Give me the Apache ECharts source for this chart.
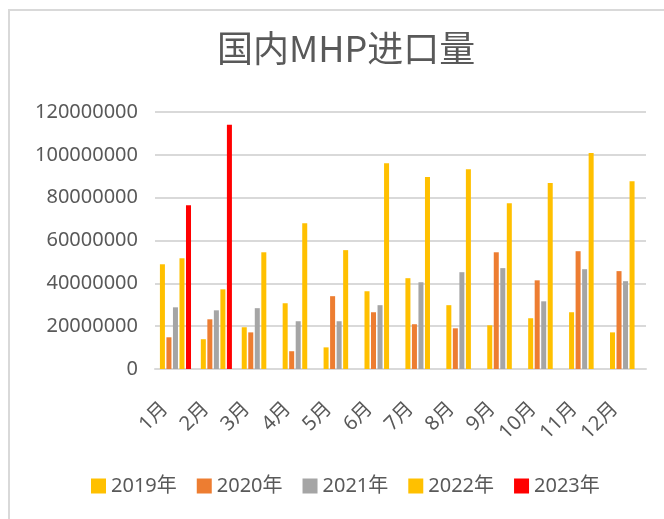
<!DOCTYPE html>
<html>
<head>
<meta charset="utf-8">
<script src="https://cdn.jsdelivr.net/npm/echarts@6/dist/echarts.min.js"></script>
<style>html,body{margin:0;padding:0;background:#fff;}#c{width:664px;height:519px;}</style>
</head>
<body>
<div id="c"></div>
<script>
const months = ['1月','2月','3月','4月','5月','6月','7月','8月','9月','10月','11月','12月'];
const seriesNames = ['2019年','2020年','2021年','2022年','2023年'];
const y2019 = [48900000,13900000,19500000,30700000,10100000,36300000,42400000,29800000,20400000,23700000,26500000,17100000];
const y2020 = [14800000,23200000,17100000,8300000,34000000,26500000,20900000,19000000,54500000,41400000,55000000,45700000];
const y2021 = [28800000,27400000,28400000,22300000,22300000,29800000,40500000,45200000,47100000,31600000,46600000,41000000];
const y2022 = [51700000,37200000,54500000,68100000,55500000,96100000,89600000,93300000,77400000,86800000,100800000,87700000];
const y2023 = [76500000,114000000,null,null,null,null,null,null,null,null,null,null];
const yTicks = {min:0, max:120000000, interval:20000000};

const colors = ['#FFC000','#ED7D31','#A5A5A5','#FFC000','#FF0000'];
const data = [y2019,y2020,y2021,y2022,y2023];
const txt = '#595959';
const font = '"Noto Sans", "Noto Sans CJK SC", sans-serif';

const chart = echarts.init(document.getElementById('c'), null, {renderer:'canvas'});
chart.setOption({
  animation:false,
  backgroundColor:'#fff',
  textStyle:{fontFamily:font},
  graphic:[{type:'rect', shape:{x:9,y:10,width:700,height:600}, style:{fill:'none',stroke:'#d9d9d9',lineWidth:2}, silent:true}],
  title:{text:'国内MHP进口量', left:212, top:25,
    textStyle:{fontSize:36, fontWeight:'normal', color:txt, fontFamily:'"Noto Sans CJK SC", sans-serif'}},
  legend:{bottom:18, left:86, itemWidth:15, itemHeight:15, itemGap:20,
    icon:'rect', textStyle:{fontSize:20, color:txt, fontFamily:font},
    data:seriesNames},
  grid:{left:155, right:18, top:112, bottom:150, containLabel:false},
  xAxis:{type:'category', data:months,
    axisLine:{lineStyle:{color:'#d9d9d9', width:2}},
    axisTick:{show:false},
    axisLabel:{rotate:45, fontSize:20, color:txt, margin:26, interval:0, fontFamily:font, padding:[0,15,0,0]}},
  yAxis:{type:'value', min:yTicks.min, max:yTicks.max, interval:yTicks.interval,
    axisLine:{show:false}, axisTick:{show:false},
    splitLine:{lineStyle:{color:'#d9d9d9', width:2}},
    axisLabel:{fontSize:20, color:txt, margin:17, fontFamily:font, formatter:v=>String(v)}},
  series: seriesNames.map((n,i)=>({
    name:n, type:'bar', data:data[i],
    itemStyle:{color:colors[i]},
    barGap:'30%', barCategoryGap:'24%'
  }))
});
</script>
</body>
</html>
